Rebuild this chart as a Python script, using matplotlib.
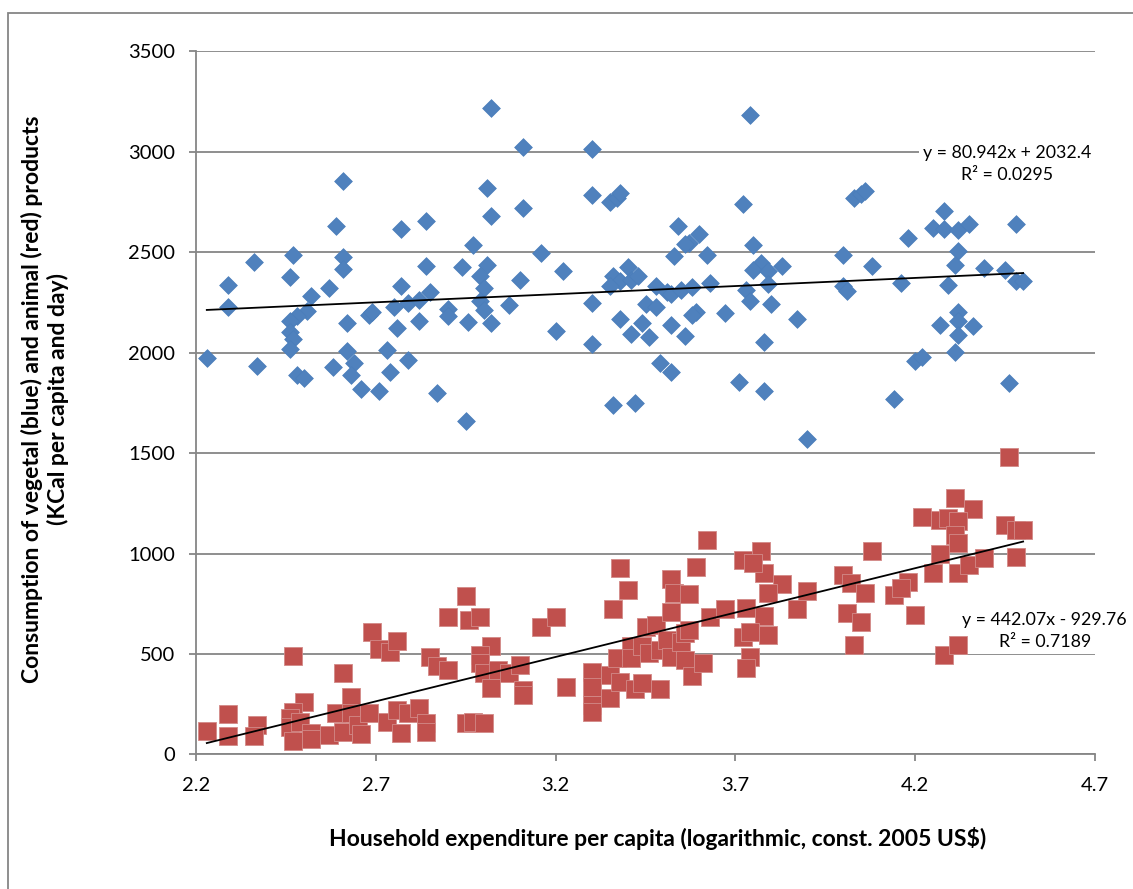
import matplotlib
matplotlib.use('Agg')
import numpy as np
import matplotlib.pyplot as plt
from matplotlib.patches import Rectangle

# log household expenditure per capita vs. kcal per capita and day
veg_x = [2.61, 2.59, 2.77, 2.84, 2.36, 2.47, 2.61, 2.61, 2.29, 2.46, 2.57, 2.77, 2.84, 2.94,
         2.29, 2.52, 2.51, 2.48, 2.46, 2.85, 2.79, 2.82, 2.75, 2.68, 2.69, 2.62, 2.76, 2.82,
         2.90, 2.90, 2.955, 2.46, 2.47, 2.46, 2.62, 2.73, 2.23, 2.37, 2.58, 2.64, 2.63, 2.74,
         2.79, 2.48, 2.50, 2.66, 2.71, 2.87, 2.95,
         3.02, 3.11, 3.30, 3.01, 3.11, 3.02, 3.30, 3.35, 3.37, 3.38, 2.97, 3.16, 3.01, 2.99,
         3.00, 2.99, 3.00, 3.02, 3.10, 3.07, 3.22, 3.20, 3.30, 3.30, 3.40, 3.36, 3.38, 3.41,
         3.43, 3.35, 3.38, 3.44, 3.41, 3.46, 3.45, 3.48, 3.48, 3.51, 3.52, 3.55, 3.58, 3.63,
         3.53, 3.54, 3.57, 3.56, 3.60, 3.62, 3.59, 3.58, 3.52, 3.56, 3.67, 3.49, 3.52, 3.36,
         3.42, 3.71,
         3.74, 3.72, 4.03, 4.05, 4.06, 4.28, 4.25, 4.28, 4.32, 4.35, 4.48, 4.18, 3.75, 3.77,
         3.75, 3.79, 3.83, 3.79, 3.73, 3.74, 3.80, 3.87, 3.78, 3.78, 3.90, 4.00, 4.08, 4.00,
         4.01, 4.16, 4.32, 4.31, 4.29, 4.39, 4.45, 4.48, 4.50, 4.27, 4.32, 4.32, 4.32, 4.36,
         4.31, 4.20, 4.22, 4.14, 4.46]
veg_y = [2855, 2630, 2614, 2658, 2451, 2484, 2477, 2418, 2336, 2379, 2323, 2333, 2432, 2427,
         2230, 2280, 2210, 2182, 2157, 2300, 2246, 2260, 2226, 2190, 2203, 2148, 2123, 2157,
         2220, 2185, 2153, 2102, 2069, 2020, 2007, 2012, 1974, 1932, 1931, 1947, 1891, 1904,
         1966, 1891, 1874, 1821, 1808, 1799, 1661,
         3217, 3024, 3016, 2818, 2722, 2683, 2785, 2750, 2772, 2796, 2534, 2494, 2439, 2381,
         2320, 2256, 2215, 2150, 2364, 2236, 2406, 2110, 2245, 2045, 2426, 2381, 2356, 2364,
         2384, 2331, 2170, 2147, 2093, 2077, 2240, 2228, 2331, 2303, 2290, 2310, 2326, 2348,
         2481, 2630, 2547, 2540, 2589, 2486, 2203, 2190, 2140, 2082, 2198, 1949, 1904, 1738,
         1749, 1854,
         3184, 2738, 2768, 2791, 2805, 2708, 2622, 2614, 2609, 2639, 2639, 2569, 2535, 2447,
         2414, 2406, 2431, 2343, 2310, 2256, 2240, 2170, 2054, 1808, 1572, 2484, 2432, 2331,
         2306, 2348, 2506, 2439, 2336, 2423, 2414, 2356, 2359, 2140, 2203, 2157, 2087, 2135,
         2002, 1957, 1977, 1769, 1848]

ani_x = [2.23, 2.29, 2.29, 2.37, 2.36, 2.47, 2.50, 2.47, 2.46, 2.46, 2.47, 2.49, 2.52, 2.52,
         2.61, 2.63, 2.59, 2.63, 2.57, 2.61, 2.65, 2.66, 2.68, 2.69, 2.71, 2.74, 2.76, 2.73,
         2.76, 2.77, 2.79, 2.82, 2.84, 2.84, 2.85, 2.87, 2.90, 2.90, 2.95, 2.96, 2.95, 2.97,
         3.00,
         2.99, 3.02, 2.99, 2.99, 3.00, 3.02, 3.04, 3.07, 3.10, 3.11, 3.11, 3.16, 3.20, 3.23,
         3.30, 3.30, 3.30, 3.30, 3.35, 3.35, 3.38, 3.42, 3.44, 3.49, 3.38, 3.40, 3.36, 3.37,
         3.41, 3.41, 3.44, 3.46, 3.45, 3.48, 3.49, 3.51, 3.52, 3.52, 3.53, 3.57, 3.59, 3.62,
         3.52, 3.55, 3.56, 3.57, 3.56, 3.58, 3.61, 3.63, 3.67, 3.72, 3.73, 3.72,
         4.46, 4.31, 4.36, 4.22, 4.27, 4.29, 4.32, 4.31, 4.32, 4.45, 4.48, 4.50, 4.48, 4.27,
         4.25, 4.32, 4.35, 4.39, 4.08, 4.00, 4.02, 4.06, 4.14, 4.18, 4.16, 4.01, 4.05, 4.03,
         4.20, 4.28, 4.32, 3.90, 3.87, 3.83, 3.79, 3.78, 3.77, 3.75, 3.78, 3.79, 3.74, 3.74,
         3.73]
ani_y = [118, 201, 91, 146, 91, 491, 259, 212, 179, 138, 66, 163, 108, 75,
         404, 284, 204, 204, 96, 113, 146, 99, 207, 611, 525, 512, 566, 163,
         221, 104, 204, 229, 154, 113, 483, 440, 420, 686, 787, 670, 157, 163,
         158,
         686, 537, 495, 457, 404, 329, 420, 404, 445, 320, 296, 633, 683, 337,
         412, 337, 246, 212, 395, 279, 362, 324, 357, 324, 927, 816, 724, 478,
         537, 478, 537, 507, 636, 645, 520, 570, 711, 872, 802, 797, 935, 1068,
         486, 561, 603, 620, 470, 390, 457, 686, 723, 970, 730, 586,
         1480, 1276, 1221, 1181, 1168, 1176, 1160, 1093, 1052, 1143, 1115, 1118, 985, 998,
         905, 902, 944, 980, 1010, 894, 852, 802, 794, 856, 827, 706, 661, 545,
         694, 495, 545, 811, 723, 849, 802, 902, 1010, 952, 689, 595, 611, 487,
         430]

# linear trendlines: slope, intercept, r squared
veg_fit = (80.942, 2032.4, 0.0295)
ani_fit = (442.07, -929.76, 0.7189)

x_ticks = [2.2, 2.7, 3.2, 3.7, 4.2, 4.7]
y_ticks = [0, 500, 1000, 1500, 2000, 2500, 3000, 3500]

plt.rcParams['font.family'] = ['Lato', 'DejaVu Sans']
grey = '#868686'

fig = plt.figure(figsize=(11.33, 8.89), dpi=100)
ax = fig.add_axes([0.173, 0.1515, 0.7935, 0.7906])

# chart frame (runs off the right and bottom edges)
fig.patches.append(Rectangle((8 / 1133, -0.1), 1.2, 1.1 - 13 / 889, transform=fig.transFigure,
                             fill=False, edgecolor=grey, lw=1.3))

ax.scatter(veg_x, veg_y, marker='D', s=82, color='#4F81BD', edgecolor='#4A7EBB', lw=0.5, zorder=3)
ax.scatter(ani_x, ani_y, marker='s', s=160, color='#C0504D', edgecolor='#D38A88', lw=0.6, zorder=3)

for xs, fit in [(veg_x, veg_fit), (ani_x, ani_fit)]:
    xl = np.array([min(xs), max(xs)])
    ax.plot(xl, fit[0] * xl + fit[1], color='black', lw=1.3, zorder=4)

# equation boxes sit above the gridlines but under the markers
lbl = dict(ha='center', va='center', fontsize=12.8, linespacing=1.45, zorder=2.5,
           bbox=dict(fc='white', ec='none', pad=3))
ax.text(4.456, 2938, f'y = {veg_fit[0]}x + {veg_fit[1]}\nR² = {veg_fit[2]}', **lbl)
ax.text(4.56, 615, f'y = {ani_fit[0]}x - {abs(ani_fit[1])}\nR² = {ani_fit[2]}', **lbl)

ax.set_xlim(2.2, 4.7)
ax.set_ylim(0, 3500)
ax.set_xticks(x_ticks)
ax.set_xticklabels([str(t) for t in x_ticks])
ax.set_yticks(y_ticks)
ax.yaxis.grid(True, color=grey, lw=1.3)
ax.set_axisbelow(True)
for side in ['top', 'right']:
    ax.spines[side].set_visible(False)
for side in ['left', 'bottom']:
    ax.spines[side].set_color(grey)
    ax.spines[side].set_linewidth(1.3)
ax.tick_params(axis='both', direction='out', length=5, width=1.3, color=grey, labelsize=14.5)
ax.tick_params(axis='x', pad=11)
ax.tick_params(axis='y', pad=10)

fig.text(658 / 1133, 1 - 838 / 889, 'Household expenditure per capita (logarithmic, const. 2005 US$)',
         ha='center', va='center', fontsize=16.5, fontweight='bold')
fig.text(45 / 1133, 1 - 399 / 889,
         'Consumption of vegetal (blue) and animal (red) products\n(KCal per capita and day)',
         ha='center', va='center', rotation=90, fontsize=16.5, fontweight='bold',
         multialignment='center', linespacing=1.2)

fig.savefig('out.png', dpi=100)
